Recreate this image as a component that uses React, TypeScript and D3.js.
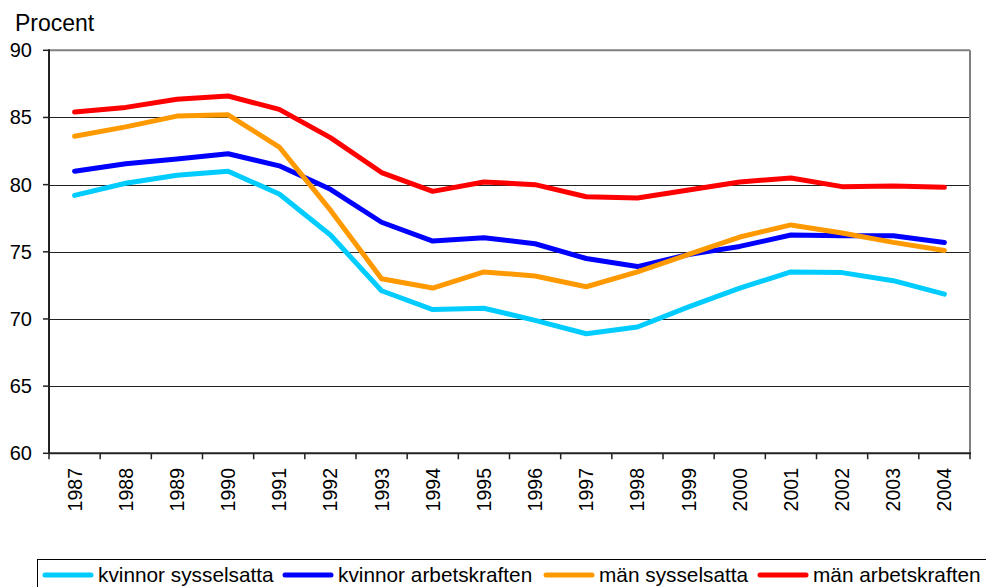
import React from "react";
import * as d3 from "d3";

const years = ["1987","1988","1989","1990","1991","1992","1993","1994","1995","1996","1997","1998","1999","2000","2001","2002","2003","2004"];
const kvinnorSysselsatta = [79.2,80.1,80.7,81.0,79.3,76.25,72.1,70.7,70.8,69.9,68.9,69.4,70.9,72.3,73.5,73.45,72.85,71.85];
const kvinnorArbetskraften = [81.0,81.55,81.9,82.3,81.4,79.65,77.2,75.8,76.05,75.6,74.5,73.9,74.8,75.4,76.25,76.2,76.2,75.7];
const manSysselsatta = [83.6,84.3,85.1,85.2,82.8,78.1,73.0,72.3,73.5,73.2,72.4,73.5,74.8,76.1,77.0,76.4,75.7,75.1];
const manArbetskraften = [85.4,85.75,86.35,86.6,85.6,83.5,80.9,79.5,80.2,80.0,79.1,79.0,79.6,80.2,80.5,79.85,79.9,79.8];
const yTicks = [60,65,70,75,80,85,90];

const seriesNames = ["kvinnor sysselsatta","kvinnor arbetskraften","män sysselsatta","män arbetskraften"];
const seriesColors = ["#00CCFF","#0000FF","#FF9900","#FF0000"];
const seriesData = [kvinnorSysselsatta, kvinnorArbetskraften, manSysselsatta, manArbetskraften];

export default function App() {
  const W = 986, H = 587;
  const left = 49, right = 970, top = 50.3, bottom = 453.3;
  const x = d3.scaleBand<string>().domain(years).range([left, right]).padding(0);
  const y = d3.scaleLinear().domain([60, 90]).range([bottom, top]);
  const line = d3.line<number>()
    .x((_, i) => (x(years[i]) as number) + x.bandwidth() / 2)
    .y((v) => y(v));
  const font = "Arial, 'Liberation Sans', sans-serif";
  const legendX = [43, 283, 544, 758];
  return (
    <svg width={W} height={H} style={{ position: "absolute", left: 0, top: 0, background: "#fff" }} fontFamily={font}>
      <rect x={0} y={0} width={W} height={H} fill="#fff" />
      <text x={15} y={31} fontSize={23} fill="#000">Procent</text>
      {yTicks.filter(t => t !== 60 && t !== 90).map(t => (
        <line key={"g" + t} x1={left} x2={right} y1={Math.round(y(t)) + 0.5} y2={Math.round(y(t)) + 0.5} stroke="#222" strokeWidth={1} />
      ))}
      <line x1={left} x2={right} y1={top} y2={top} stroke="#808080" strokeWidth={2} />
      <line x1={right} x2={right} y1={top} y2={bottom} stroke="#808080" strokeWidth={2} />
      <line x1={left} x2={left} y1={top - 1} y2={bottom} stroke="#222" strokeWidth={2} />
      <line x1={left} x2={right + 1} y1={bottom} y2={bottom} stroke="#222" strokeWidth={2} />
      {yTicks.map(t => (
        <g key={"yt" + t}>
          <line x1={left - 6} x2={left} y1={y(t)} y2={y(t)} stroke="#222" strokeWidth={1.5} />
          <text x={32} y={y(t)} dy="0.35em" textAnchor="end" fontSize={20} fill="#000">{t}</text>
        </g>
      ))}
      {years.map((yr) => (
        <line key={"xt" + yr} x1={x(yr) as number} x2={x(yr) as number} y1={bottom} y2={bottom + 6} stroke="#222" strokeWidth={1.5} />
      ))}
      <line x1={right} x2={right} y1={bottom} y2={bottom + 6} stroke="#222" strokeWidth={1.5} />
      {years.map(yr => {
        const cx = (x(yr) as number) + x.bandwidth() / 2;
        return (
          <text key={"xl" + yr} transform={`translate(${cx + 7},${468}) rotate(-90)`} textAnchor="end" fontSize={19.5} fill="#000">{yr}</text>
        );
      })}
      {seriesData.map((d, i) => (
        <path key={"s" + i} d={line(d) as string} fill="none" stroke={seriesColors[i]} strokeWidth={5} strokeLinejoin="round" strokeLinecap="round" />
      ))}
      <rect x={37.5} y={559.5} width={960} height={40} fill="#fff" stroke="#000" strokeWidth={1} />
      {seriesNames.map((n, i) => (
        <g key={"lg" + i}>
          <line x1={legendX[i] + 2} x2={legendX[i] + 48} y1={575} y2={575} stroke={seriesColors[i]} strokeWidth={5} strokeLinecap="round" />
          <text x={legendX[i] + 55} y={582} fontSize={20.8} fill="#000">{n}</text>
        </g>
      ))}
    </svg>
  );
}
